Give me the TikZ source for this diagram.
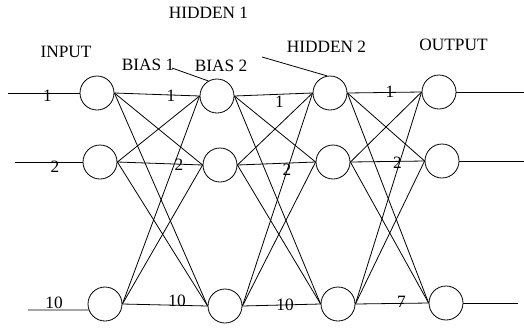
\documentclass[tikz,border=0pt]{standalone}
\usepackage{fontspec}
\setmainfont{Liberation Serif}
\begin{document}
\begin{tikzpicture}[x=1pt,y=-1pt,
  neuron/.style={circle,draw,line width=0.8pt,minimum size=34pt,inner sep=0pt},
  wire/.style={line width=0.8pt},
  lbl/.style={inner sep=0pt,font=\fontsize{17.3}{20}\selectfont},
  num/.style={inner sep=0pt,font=\fontsize{17.3}{20}\selectfont}]
\useasboundingbox (0,0) rectangle (524,327);
% neurons
\node[neuron] (c11) at (97,93) {};
\node[neuron] (c12) at (100,162) {};
\node[neuron] (c13) at (105,304) {};
\node[neuron] (c21) at (217,96) {};
\node[neuron] (c22) at (220,165) {};
\node[neuron] (c23) at (225,306) {};
\node[neuron] (c31) at (330,93) {};
\node[neuron] (c32) at (333,162) {};
\node[neuron] (c33) at (338,304) {};
\node[neuron] (c41) at (439,92) {};
\node[neuron] (c42) at (442,161) {};
\node[neuron] (c43) at (446,303) {};
% input / output free ends
\coordinate (i1) at (8,93);
\coordinate (i2) at (15,162);
\coordinate (i3) at (28,310);
\coordinate (o1) at (524,92);
\coordinate (o2) at (524,161);
\coordinate (o3) at (518,303);
\draw[wire] (i1) -- (c11.west);
\draw[wire] (i2) -- (c12.west);
\draw[wire] (i3) -- (c13.200);
\draw[wire] (c41.east) -- (o1);
\draw[wire] (c42.east) -- (o2);
\draw[wire] (c43.east) -- (o3);
% full connections
\foreach \a/\b in {1/2,2/3,3/4}{
  \foreach \i in {1,2,3}{
    \foreach \j in {1,2,3}{
      \draw[wire] (c\a\i.east) -- (c\b\j.west);
    }
  }
}
% numbers
\node[num] (n01) at (47.5,96) {1};
\node[num] (n02) at (55,167) {2};
\node[num] (n03) at (54,303) {10};
\node[num] (n11) at (171,96) {1};
\node[num] (n12) at (179,165) {2};
\node[num] (n13) at (177,301) {10};
\node[num] (n21) at (279.5,102) {1};
\node[num] (n22) at (287,170) {2};
\node[num] (n23) at (285,304.5) {10};
\node[num] (n31) at (390,92) {1};
\node[num] (n32) at (397.5,163) {2};
\node[num] (n33) at (401.5,301.5) {7};
% titles
\node[lbl] (th1) at (208.5,12.5) {HIDDEN 1};
\node[lbl] (tin) at (66,51.5) {INPUT};
\node[lbl] (tb1) at (148,64.5) {BIAS 1};
\node[lbl] (tb2) at (221,66) {BIAS 2};
\node[lbl] (th2) at (326.5,46.5) {HIDDEN 2};
\node[lbl] (tout) at (453.5,45) {OUTPUT};
% pointers
\coordinate (p1) at (172,68);
\coordinate (p2) at (262,57);
\draw[wire] (p1) -- (c21.120);
\draw[wire] (p2) -- (c31.100);
\end{tikzpicture}
\end{document}
